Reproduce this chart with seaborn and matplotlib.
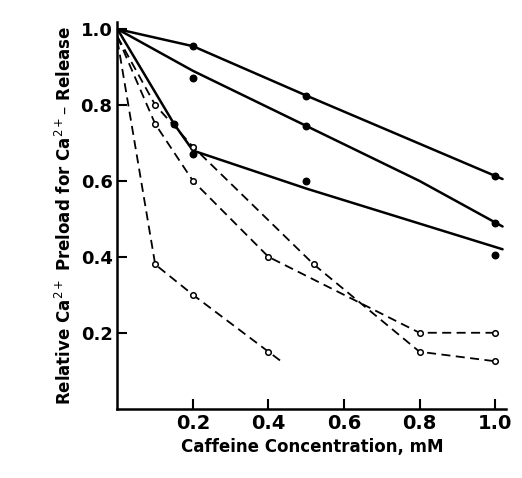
import numpy as np
import matplotlib.pyplot as plt
import seaborn as sns

sns.set_style("ticks")
plt.rcParams['font.family'] = ['DejaVu Sans']
plt.rcParams['text.color'] = 'black'
plt.rcParams['axes.labelcolor'] = 'black'
plt.rcParams['xtick.color'] = 'black'
plt.rcParams['ytick.color'] = 'black'
plt.rcParams['axes.edgecolor'] = 'black'

# solid fitted lines (filled points)
line1_x = [0, 0.2, 0.5, 1.02]
line1_y = [1.0, 0.955, 0.825, 0.605]
pts1_x = [0.2, 0.5, 1.0]
pts1_y = [0.955, 0.825, 0.612]

line2_x = [0, 0.2, 0.5, 0.8, 1.02]
line2_y = [1.0, 0.89, 0.745, 0.6, 0.48]
pts2_x = [0.2, 0.5, 1.0]
pts2_y = [0.87, 0.745, 0.49]

line3_x = [0, 0.15, 0.2, 0.5, 1.02]
line3_y = [1.0, 0.75, 0.68, 0.58, 0.42]
pts3_x = [0.15, 0.2, 0.5, 1.0]
pts3_y = [0.75, 0.67, 0.6, 0.405]

# dashed series (open points)
dashA_x = [0, 0.1, 0.2, 0.52, 0.8, 1.0]
dashA_y = [0.98, 0.8, 0.69, 0.38, 0.15, 0.125]
dashB_x = [0, 0.1, 0.2, 0.4, 0.8, 1.0]
dashB_y = [0.98, 0.75, 0.6, 0.4, 0.2, 0.2]
dashC_x = [0, 0.1, 0.2, 0.4, 0.44]
dashC_y = [0.97, 0.38, 0.3, 0.15, 0.12]
openA_x = [0.1, 0.2, 0.52, 0.8, 1.0]
openA_y = [0.8, 0.69, 0.38, 0.15, 0.125]
openB_x = [0.1, 0.2, 0.4, 0.8, 1.0]
openB_y = [0.75, 0.6, 0.4, 0.2, 0.2]
openC_x = [0.1, 0.2, 0.4]
openC_y = [0.38, 0.3, 0.15]

fig, ax = plt.subplots(figsize=(5.22, 4.78), dpi=100)
for lx, ly in [(line1_x, line1_y), (line2_x, line2_y), (line3_x, line3_y)]:
    sns.lineplot(x=lx, y=ly, ax=ax, color='black', lw=1.8, sort=False)
for lx, ly in [(dashA_x, dashA_y), (dashB_x, dashB_y), (dashC_x, dashC_y)]:
    sns.lineplot(x=lx, y=ly, ax=ax, color='black', lw=1.3, sort=False, dashes=False, linestyle=(0, (5, 3)))
for px, py in [(pts1_x, pts1_y), (pts2_x, pts2_y), (pts3_x, pts3_y)]:
    ax.scatter(px, py, s=22, color='black', zorder=3)
for px, py in [(openA_x, openA_y), (openB_x, openB_y), (openC_x, openC_y)]:
    ax.scatter(px, py, s=16, facecolor='white', edgecolor='black', lw=1.1, zorder=3)

ax.set_xlim(0, 1.03)
ax.set_ylim(0, 1.02)
ax.set_xticks([0.2, 0.4, 0.6, 0.8, 1.0])
ax.set_yticks([0.2, 0.4, 0.6, 0.8, 1.0])
ax.set_xticklabels(['0.2', '0.4', '0.6', '0.8', '1.0'], fontsize=14, fontweight='bold')
ax.set_yticklabels(['0.2', '0.4', '0.6', '0.8', '1.0'], fontsize=13, fontweight='bold')
ax.tick_params(direction='in', length=7, width=1.5)
for s in ['left', 'bottom']:
    ax.spines[s].set_linewidth(1.8)
sns.despine(ax=ax)
ax.set_xlabel('Caffeine Concentration, mM', fontsize=12, fontweight='bold')
ax.set_ylabel('Relative Ca$^{2+}$ Preload for Ca$^{2+}$– Release', fontsize=12, fontweight='bold')
fig.subplots_adjust(left=0.225, right=0.97, bottom=0.145, top=0.955)
fig.savefig('out.png', dpi=100)
